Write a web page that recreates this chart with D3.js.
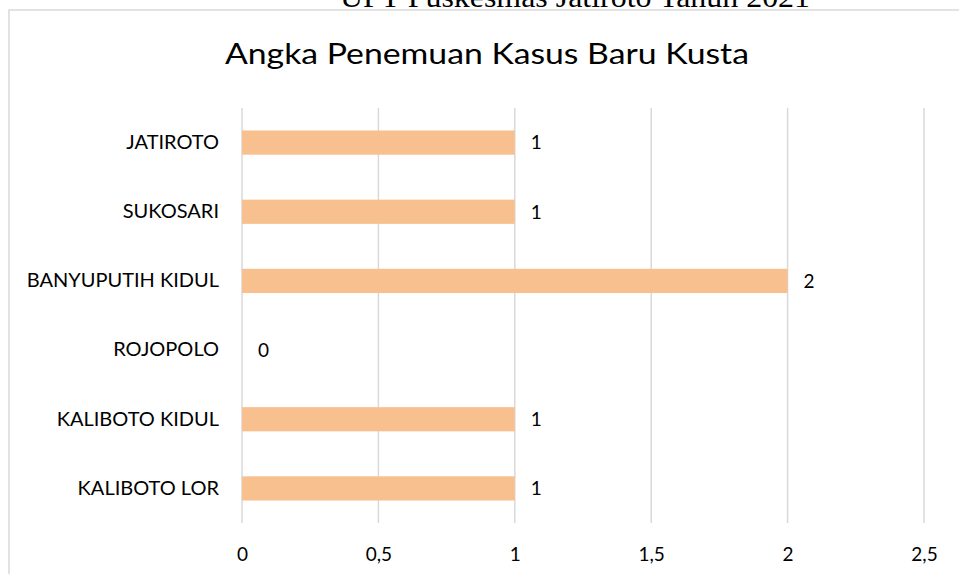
<!DOCTYPE html>
<meta charset="utf-8">
<style>
body{ margin:0; background:#fff; }
svg text{ font-family: Lato, "Noto Sans", sans-serif; fill:#000; }
</style>
<body>
<script src="https://cdn.jsdelivr.net/npm/d3@7"></script>
<script>

// data
var categories = ["JATIROTO", "SUKOSARI", "BANYUPUTIH KIDUL", "ROJOPOLO", "KALIBOTO KIDUL", "KALIBOTO LOR"];
var values = [1, 1, 2, 0, 1, 1];
var xTicks = [0, 0.5, 1, 1.5, 2, 2.5];

var width = 959, height = 574;
var margin = {top: 108, left: 242, right: 959 - 924, bottom: 574 - 523};

var svg = d3.select("body").append("svg")
    .attr("width", width)
    .attr("height", height);

// page text cut off above the chart
svg.append("text")
    .attr("x", 575).attr("y", 7)
    .attr("text-anchor", "middle")
    .attr("textLength", 470)
    .attr("lengthAdjust", "spacingAndGlyphs")
    .style("font-family", "'Liberation Serif', 'DejaVu Serif', serif")
    .style("font-size", "30px")
    .text("UPT Puskesmas Jatiroto Tahun 2021");

// chart frame
svg.append("rect")
    .attr("x", 9).attr("y", 10)
    .attr("width", 980).attr("height", 600)
    .attr("fill", "#fff")
    .attr("stroke", "#d9d9d9")
    .attr("stroke-width", 1.5);

svg.append("text")
    .attr("x", 487).attr("y", 64)
    .attr("text-anchor", "middle")
    .attr("textLength", 524)
    .attr("lengthAdjust", "spacingAndGlyphs")
    .style("font-size", "28px")
    .text("Angka Penemuan Kasus Baru Kusta");

var x = d3.scaleLinear()
    .domain([0, 2.5])
    .range([margin.left, width - margin.right]);

var y = d3.scaleBand()
    .domain(categories)
    .range([margin.top, height - margin.bottom])
    .paddingInner(0.65)
    .paddingOuter(0.325);

// grid
svg.append("g")
  .selectAll("line")
  .data(xTicks)
  .enter().append("line")
    .attr("x1", function(d) { return x(d); })
    .attr("x2", function(d) { return x(d); })
    .attr("y1", margin.top)
    .attr("y2", height - margin.bottom)
    .attr("stroke", "#d9d9d9")
    .attr("stroke-width", 1.5);

// bars
svg.append("g")
  .selectAll("rect")
  .data(values)
  .enter().append("rect")
    .attr("x", x(0))
    .attr("y", function(d, i) { return y(categories[i]); })
    .attr("width", function(d) { return x(d) - x(0); })
    .attr("height", y.bandwidth())
    .attr("fill", "#f9c08f");

// value labels
svg.append("g")
  .selectAll("text")
  .data(values)
  .enter().append("text")
    .attr("x", function(d) { return x(d) + 16; })
    .attr("y", function(d, i) { return y(categories[i]) + y.bandwidth() / 2; })
    .attr("dy", "0.36em")
    .style("font-size", "19px")
    .text(function(d) { return d; });

// y axis labels
var yAxis = d3.axisLeft(y).tickSize(0).tickPadding(23);
var gy = svg.append("g")
    .attr("transform", "translate(" + x(0) + ",0)")
    .call(yAxis);
gy.select(".domain").remove();
gy.selectAll("text").style("font-size", "20px").style("font-family", null);

// x axis labels
var xAxis = d3.axisBottom(x)
    .tickValues(xTicks)
    .tickSize(0)
    .tickPadding(25)
    .tickFormat(function(d) { return String(d).replace(".", ","); });
var gx = svg.append("g")
    .attr("transform", "translate(0," + (height - margin.bottom) + ")")
    .call(xAxis);
gx.select(".domain").remove();
gx.selectAll("text").style("font-size", "19px").style("font-family", null);

</script>
</body>
